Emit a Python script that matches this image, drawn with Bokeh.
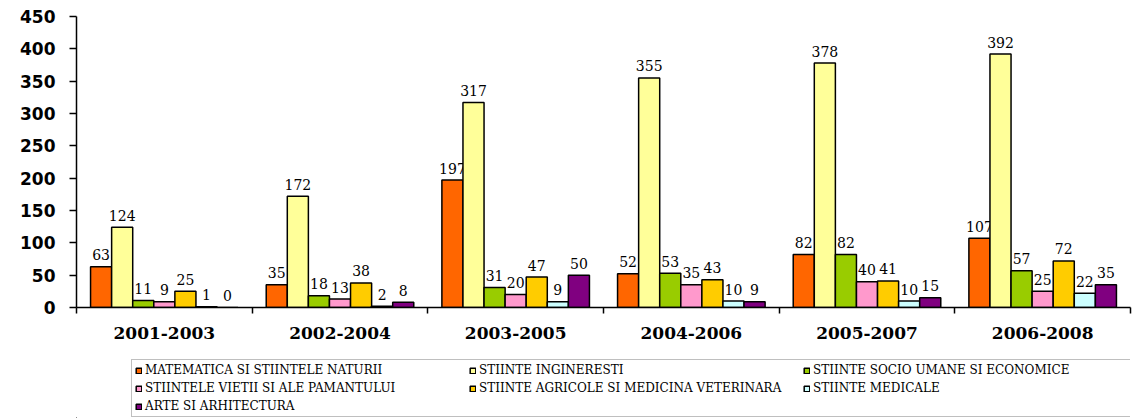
from bokeh.plotting import figure
from bokeh.models import Range1d, FixedTicker, Legend, LegendItem, ColumnDataSource
from bokeh.layouts import column
from bokeh.embed import file_html
from bokeh.resources import INLINE
from bokeh.core.properties import value

periods = ["2001-2003", "2002-2004", "2003-2005", "2004-2006", "2005-2007", "2006-2008"]
series_names = [
    "MATEMATICA SI STIINTELE NATURII",
    "STIINTE INGINERESTI",
    "STIINTE SOCIO UMANE SI ECONOMICE",
    "STIINTELE VIETII SI ALE PAMANTULUI",
    "STIINTE AGRICOLE SI MEDICINA VETERINARA",
    "STIINTE MEDICALE",
    "ARTE SI ARHITECTURA",
]
matematica = [63, 35, 197, 52, 82, 107]
ingineresti = [124, 172, 317, 355, 378, 392]
socio_umane = [11, 18, 31, 53, 82, 57]
vietii = [9, 13, 20, 35, 40, 25]
agricole = [25, 38, 47, 43, 41, 72]
medicale = [1, 2, 9, 10, 10, 22]
arte = [0, 8, 50, 9, 15, 35]
y_ticks = [0, 50, 100, 150, 200, 250, 300, 350, 400, 450]

series = [matematica, ingineresti, socio_umane, vietii, agricole, medicale, arte]
colors = ["#FF6600", "#FFFF99", "#99CC00", "#FF99CC", "#FFCC00", "#CCFFFF", "#800080"]

n = len(periods)
bar_w = 0.12
centers = [i + 0.5 for i in range(n)]

p = figure(width=1134, height=356, output_backend="svg", toolbar_location=None,
           x_range=Range1d(0, n), y_range=Range1d(0, 450),
           min_border_left=76, min_border_right=4, min_border_top=16, min_border_bottom=49)
p.outline_line_color = None
p.xgrid.visible = False
p.ygrid.visible = False
p.background_fill_color = "white"

for k, (vals, col) in enumerate(zip(series, colors)):
    off = (k - (len(series) - 1) / 2) * bar_w
    xs = [c + off for c in centers]
    src = ColumnDataSource(dict(x=xs, top=vals, lab=[str(v) for v in vals]))
    p.vbar(x="x", top="top", width=bar_w, bottom=0, source=src,
           fill_color=col, line_color="black", line_width=1.5)
    p.text(x="x", y="top", text="lab", source=src, text_align="center",
           text_baseline="alphabetic", y_offset=-12, text_color="black",
           text_font=value("DejaVu Serif"), text_font_size="14px")

# y axis
ya = p.yaxis[0]
ya.ticker = FixedTicker(ticks=y_ticks)
ya.axis_line_color = "black"
ya.axis_line_width = 1.5
ya.major_tick_line_color = "black"
ya.major_tick_line_width = 1.5
ya.major_tick_out = 7
ya.major_tick_in = 0
ya.minor_tick_line_color = None
ya.major_label_standoff = 14
ya.major_label_text_font = "DejaVu Sans"
ya.major_label_text_font_style = "bold"
ya.major_label_text_font_size = "17px"
ya.major_label_text_color = "black"

# x axis
xa = p.xaxis[0]
xa.ticker = FixedTicker(ticks=centers, minor_ticks=list(range(n + 1)))
xa.major_label_overrides = {c: lab for c, lab in zip(centers, periods)}
xa.axis_line_color = "black"
xa.axis_line_width = 1.5
xa.major_tick_line_color = None
xa.major_tick_out = 0
xa.major_tick_in = 0
xa.minor_tick_line_color = "black"
xa.minor_tick_line_width = 1.5
xa.minor_tick_out = 6
xa.minor_tick_in = 0
xa.major_label_standoff = 13
xa.major_label_text_font = "DejaVu Serif"
xa.major_label_text_font_style = "bold"
xa.major_label_text_font_size = "17px"
xa.major_label_text_color = "black"

# legend panel (separate strip below the chart)
lg = figure(width=1134, height=62, output_backend="svg", toolbar_location=None,
            x_range=Range1d(0, 1), y_range=Range1d(0, 1),
            min_border_left=0, min_border_right=0, min_border_top=0, min_border_bottom=0)
lg.axis.visible = False
lg.xgrid.visible = False
lg.ygrid.visible = False
lg.outline_line_color = None

items = []
for name, col in zip(series_names, colors):
    # legend swatch only: a zero-size glyph placed far outside the visible strip
    sw = ColumnDataSource(dict(x=[-5.0], top=[-5.0], bottom=[-5.0]))
    r = lg.vbar(x="x", top="top", bottom="bottom", width=0, source=sw,
                fill_color=col, line_color="black", line_width=1.5)
    items.append(LegendItem(label=name, renderers=[r]))

legend = Legend(items=items, location=(55, 1), orientation="horizontal", ncols=3,
                glyph_width=7, glyph_height=7, label_standoff=3, label_width=320,
                label_height=14, spacing=4, padding=3, margin=0,
                label_text_font="DejaVu Serif", label_text_font_size="12px",
                label_text_color="black",
                border_line_color="#808080", border_line_width=1.5,
                background_fill_color="white", background_fill_alpha=1.0)
lg.add_layout(legend)

layout = column(p, lg, spacing=0)
open("out.html", "w").write(file_html(layout, INLINE))
